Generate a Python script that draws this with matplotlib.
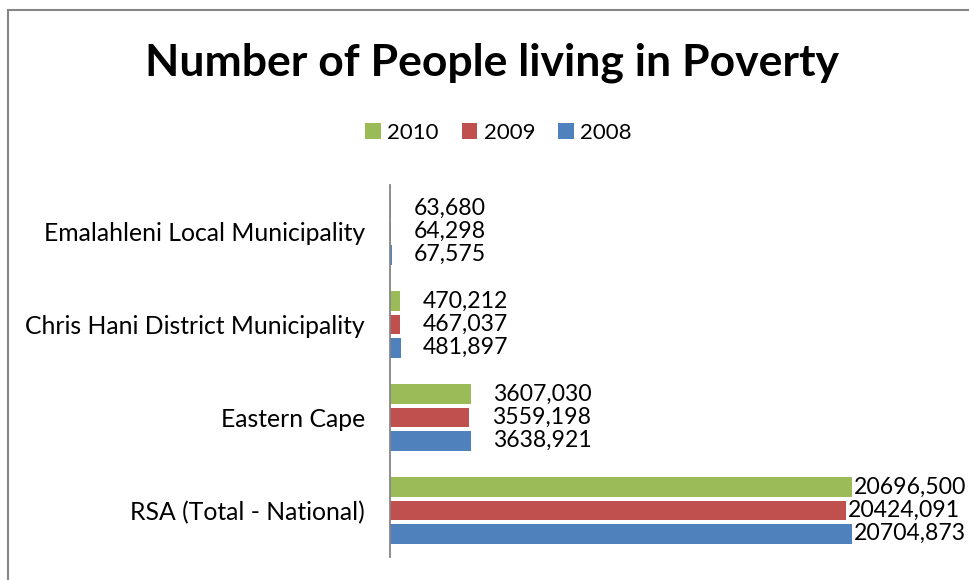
import matplotlib.pyplot as plt
from matplotlib.patches import Rectangle

categories = ["RSA (Total - National)", "Eastern Cape",
              "Chris Hani District Municipality", "Emalahleni Local Municipality"]
years = ["2008", "2009", "2010"]
values_2008 = [20704873, 3638921, 481897, 67575]
values_2009 = [20424091, 3559198, 467037, 64298]
values_2010 = [20696500, 3607030, 470212, 63680]
labels_2008 = ["20704,873", "3638,921", "481,897", "67,575"]
labels_2009 = ["20424,091", "3559,198", "467,037", "64,298"]
labels_2010 = ["20696,500", "3607,030", "470,212", "63,680"]

colors = {"2008": "#4f81bd", "2009": "#c0504d", "2010": "#9bbb59"}
font = "Lato"

fig = plt.figure(figsize=(9.69, 5.8), dpi=100)
fig.patches.append(Rectangle((8 / 969, -0.1), 1.2, (580 - 10) / 580 + 0.1,
                             transform=fig.transFigure, fill=False,
                             edgecolor="#868686", linewidth=1.5))

ax = fig.add_axes([390 / 969, 23 / 580, 558 / 969, 372 / 580])

series = [("2008", values_2008, labels_2008, -0.25),
          ("2009", values_2009, labels_2009, 0.0),
          ("2010", values_2010, labels_2010, 0.25)]
label_pad = [1.5, 16, 16, 16]  # points, RSA labels sit tight to the bar

for year, vals, labs, off in series:
    ypos = [i + off for i in range(len(categories))]
    ax.barh(ypos, vals, height=0.21, color=colors[year], label=year)
    for i, (v, t) in enumerate(zip(vals, labs)):
        ax.annotate(t, (v, ypos[i]), xytext=(label_pad[i], 0),
                    textcoords="offset points", va="center", ha="left",
                    fontsize=16.6, family=font, annotation_clip=False)

ax.set_xlim(0, 25000000)
ax.set_ylim(-0.5, 3.5)
ax.set_yticks(range(len(categories)))
ax.set_yticklabels(categories, fontsize=17.8, family=font)
ax.tick_params(axis="y", length=0, pad=18)
ax.set_xticks([])
for s in ["top", "right", "bottom"]:
    ax.spines[s].set_visible(False)
ax.spines["left"].set_color("#868686")
ax.spines["left"].set_linewidth(1.3)

fig.text(0.508, 1 - 63 / 580, "Number of People living in Poverty", ha="center",
         va="center", fontsize=32, fontweight="bold", family=font)

handles, leg_labels = ax.get_legend_handles_labels()
fig.legend(handles[::-1], leg_labels[::-1], loc="center",
           bbox_to_anchor=(0.5145, 1 - 133 / 580), ncol=3, frameon=False,
           prop={"family": font, "size": 16}, handlelength=0.7,
           handleheight=0.7, handletextpad=0.3, columnspacing=1.03)

fig.savefig("out.png", dpi=100)
